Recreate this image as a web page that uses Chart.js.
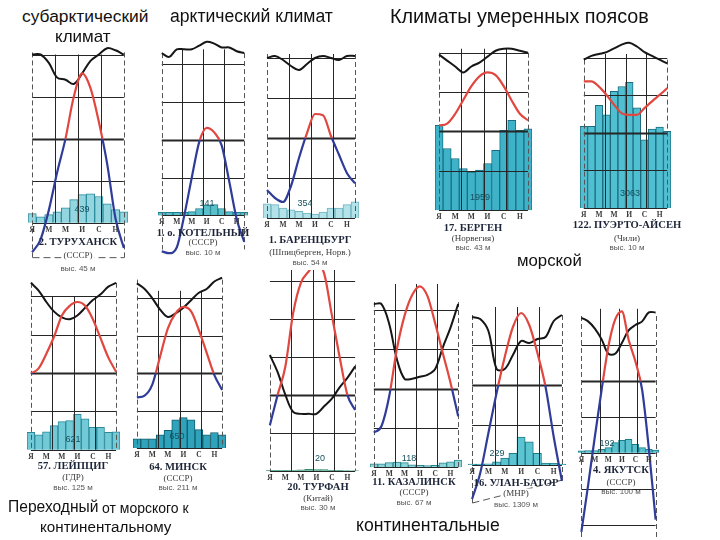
<!DOCTYPE html>
<html>
<head>
<meta charset="utf-8">
<script src="https://cdn.jsdelivr.net/npm/chart.js@4.4.0/dist/chart.umd.min.js"></script>
<style>
  html, body { margin: 0; padding: 0; background: #fff; }
  #page { position: relative; width: 720px; height: 540px; overflow: hidden; background: #fff; }
  #page canvas { position: absolute; z-index: 1; }
  .cap { position: absolute; white-space: nowrap; line-height: 1; color: #111; font-family: "Liberation Sans", Arial, sans-serif; z-index: 3; }
  .lbl { position: absolute; white-space: nowrap; line-height: 1; transform: translate(-50%, -50%); z-index: 3; }
  .st { font-family: "Liberation Serif", serif; font-weight: bold; font-size: 10.6px; color: #1c2438; }
  .sub { font-family: "Liberation Serif", serif; font-size: 9px; color: #3a3a3a; }
  .alt { font-family: "Liberation Sans", sans-serif; font-size: 8px; color: #555; }
  .tot { font-family: "Liberation Sans", sans-serif; font-size: 9px; color: #16505c; }
</style>
</head>
<body>
<div id="page"></div>
<script>
// месяцы (подписи оси)
const months = ['Я', 'Ф', 'М', 'А', 'М', 'И', 'И', 'А', 'С', 'О', 'Н', 'Д'];

// температура (°C), осадки (мм), влажность (%)
const turTemp = [-27, -24, -17, -8, 0, 10, 15.5, 12, 4, -6, -19, -26];
const turPrec = [20, 13, 18, 24, 33, 51, 62, 64, 58, 42, 29, 24];
const turHum = [80, 80, 76, 69, 68, 66, 71, 77, 80, 83, 82, 80];

const kotTemp = [-29.5, -30, -28.5, -20, -10, -0.5, 3.2, 2, -1.5, -11, -21, -27];
const kotPrec = [7, 7, 7, 7, 9, 16, 24, 25, 16, 9, 7, 7];
const kotHum = [86, 84, 88, 88, 88, 90, 92, 91, 89, 89, 87, 86];

const barTemp = [-13, -15, -16, -12, -5, 1.2, 6, 5.7, 0.5, -4.2, -8.8, -11.3];
const barPrec = [43, 41, 30, 25, 20, 15, 12, 18, 30, 30, 41, 49];
const barHum = [80, 81, 79, 76, 74, 77, 80, 81, 80, 79, 81, 81];

const berTemp = [1.5, 2, 4.5, 8, 11.5, 14, 15, 14.3, 11.5, 7.8, 4.5, 2.8];
const berPrec = [220, 160, 134, 108, 99, 104, 121, 155, 207, 233, 207, 211];
const berHum = [79, 76, 73, 70, 73, 75, 78, 81, 82, 82, 81, 80];

const paTemp = [13.7, 13.7, 12.3, 10.1, 7.5, 5.2, 4.8, 4.8, 6.6, 8.4, 10.1, 11.9];
const paPrec = [222, 222, 279, 253, 317, 330, 341, 272, 185, 214, 220, 208];
const paHum = [79, 81, 82, 83, 85, 87, 88, 86, 83, 81, 79, 77];

const leiTemp = [-0.2, 1.2, 5, 9.5, 15, 17.5, 18.5, 17.5, 14, 9, 4, 0.3];
const leiPrec = [39, 33, 40, 54, 63, 65, 79, 69, 50, 50, 39, 40];
const leiHum = [87, 83, 77, 72, 69, 68, 70, 74, 78, 81, 85, 87];

const minTemp = [-6.5, -6, -3, 4.5, 12, 16, 17.7, 16.5, 11.5, 5.5, -0.5, -4.5];
const minPrec = [29, 29, 29, 42, 56, 89, 96, 89, 58, 42, 49, 42];
const minHum = [88, 85, 80, 74, 70, 72, 75, 79, 83, 85, 89, 91];

const turfTemp = [-8, 0, 7.5, 21.5, 29.5, 32.5, 34.5, 32, 21, 10, 0, -4];
const turfPrec = [1, 1, 1, 1.5, 2.5, 4, 3, 3, 1, 1, 0.5, 0.5];
const turfHum = [61, 52, 40, 31, 30, 30, 30, 34, 38, 44, 49, 55];

const kazTemp = [-11.2, -9.5, -2, 10, 18.5, 23.8, 26, 23.5, 16.6, 9, 1.5, -7];
const kazPrec = [9, 9, 12, 13, 12, 6, 5, 4, 5, 11, 14, 18];
const kazHum = [83, 83, 73, 55, 45, 45, 46, 47, 50, 61, 71, 83];

const ubTemp = [-28.5, -22, -12, -2, 7, 14.5, 18, 15, 8, -0.5, -13, -24];
const ubPrec = [2, 2, 3, 8, 17, 29, 70, 58, 29, 5, 4, 2];
const ubHum = [74, 73, 67, 48, 48, 55, 62, 61, 63, 64, 72, 75];

const yakTemp = [-42, -29, -15.5, -2.5, 9.5, 17, 19.3, 11.4, 5.4, -2.5, -19, -38.6];
const yakPrec = [5, 6, 6, 9, 14, 28, 34, 37, 23, 14, 9, 7];
const yakHum = [75, 73, 69, 63, 55, 55, 61, 68, 71, 73, 78, 78];

const annualPrec = [439, 141, 354, 1959, 3063, 621, 650, 20, 118, 229, 192];
const stationNames = ['2. ТУРУХАНСК', '1. о. КОТЕЛЬНЫЙ', '1. БАРЕНЦБУРГ', '17. БЕРГЕН', '122. ПУЭРТО-АЙСЕН',
  '57. ЛЕЙПЦИГ', '64. МИНСК', '20. ТУРФАН', '11. КАЗАЛИНСК', '16. УЛАН-БАТОР', '4. ЯКУТСК'];
const countries = ['(СССР)', '(СССР)', '(Шпицберген, Норв.)', '(Норвегия)', '(Чили)',
  '(ГДР)', '(СССР)', '(Китай)', '(СССР)', '(МНР)', '(СССР)'];
const altitudes = ['выс. 45 м', 'выс. 10 м', 'выс. 54 м', 'выс. 43 м', 'выс. 10 м',
  'выс. 125 м', 'выс. 211 м', 'выс. 30 м', 'выс. 67 м', 'выс. 1309 м', 'выс. 100 м'];

const RED = '#e0473f';
const BLUE = '#2f3c98';

// раскладка панелей: x0/x11 - пиксели января и декабря, zero - пиксель 0°C, row - пикселей на 10°C
const panels = [
  { temp: turTemp, prec: turPrec, hum: turHum, x0: 31.7, x11: 123.3, zero: 138, row: 42, tmin: -31, tmax: 22.5,
    hTop: 20, hBot: -20, vTop: 20, dTop: 20.5, dBot: [-28.3, -28.3], dashBottom: true, mmRow: 93, fill: '#93d6df', line: '#2e8c9e',
    tx: 78, ty: [242, 255, 269], tot: [82, 209] },
  { temp: kotTemp, prec: kotPrec, hum: kotHum, x0: 161.7, x11: 244, zero: 140, row: 37.75, tmin: -31, tmax: 27,
    hTop: 20, hBot: -20, vTop: 24, dTop: 23, dBot: [-29, -29], mmRow: 87, fill: '#58bfcb', line: '#1d7f8e',
    tx: 203, ty: [233, 242, 253], tot: [207, 203] },
  { temp: barTemp, prec: barPrec, hum: barHum, x0: 266.7, x11: 355, zero: 138, row: 40, tmin: -24, tmax: 22,
    hTop: 20, hBot: -20, vTop: 21, dTop: 21, dBot: [-20, -20], mmRow: 122, fill: '#b3e2e8', line: '#6fb3bf',
    tx: 310, ty: [240, 252, 263], tot: [305, 203] },
  { temp: berTemp, prec: berPrec, hum: berHum, x0: 439, x11: 528.3, zero: 131, row: 39.3, tmin: -24, tmax: 21.7,
    hTop: 20, hBot: -20, vTop: 21, dTop: 20, dBot: [-20, -20], mmRow: 102, fill: '#3db2c8', line: '#1b6f82',
    tx: 473, ty: [228, 238, 248], tot: [480, 197] },
  { temp: paTemp, prec: paPrec, hum: paHum, x0: 584, x11: 667.3, zero: 133, row: 37.5, tmin: -24, tmax: 25,
    hTop: 20, hBot: -20, vTop: 21, dTop: 19.5, dBot: [-20, -20], mmRow: 102, fill: '#4fbfd1', line: '#1d6c7c',
    tx: 627, ty: [225, 238, 248], tot: [630, 193] },
  { temp: leiTemp, prec: leiPrec, hum: leiHum, x0: 30.7, x11: 116, zero: 373, row: 38.3, tmin: -24, tmax: 24.5,
    hTop: 20, hBot: -20, vTop: 20, dTop: 23.5, dBot: [-20, -20], mmRow: 86, fill: '#72cad7', line: '#2a899b',
    tx: 73, ty: [466, 477, 488], tot: [73, 439] },
  { temp: minTemp, prec: minPrec, hum: minHum, x0: 136.7, x11: 221.7, zero: 373, row: 37.5, tmin: -24, tmax: 26.5,
    hTop: 20, hBot: -20, vTop: 22, dTop: 25, dBot: [-20, -20], mmRow: 118, fill: '#2ea3bb', line: '#135d6c',
    tx: 178, ty: [467, 478, 488], tot: [177, 436] },
  { temp: turfTemp, prec: turfPrec, hum: turfHum, x0: 270, x11: 355, zero: 395, row: 38, tmin: -24, tmax: 32.9,
    hTop: 30, hBot: -20, vTop: 32.9, dTop: 8, dBot: [-20, -20], mmRow: 100, fill: '#5cc0a0', line: '#2a7e62',
    tx: 318, ty: [487, 498, 508], tot: [320, 458] },
  { temp: kazTemp, prec: kazPrec, hum: kazHum, x0: 374.3, x11: 458.3, zero: 389, row: 39.3, tmin: -24, tmax: 26.6,
    hTop: 20, hBot: -20, vTop: 26.6, dTop: 22, dBot: [-20, -20], mmRow: 100, fill: '#8dd3d8', line: '#2a8890',
    tx: 414, ty: [482, 492, 503], tot: [409, 458] },
  { temp: ubTemp, prec: ubPrec, hum: ubHum, x0: 472.3, x11: 561.7, zero: 385, row: 40, tmin: -30, tmax: 20,
    hTop: 10, hBot: -20, vTop: 19.5, dTop: 17.5, dBot: [-29.5, -23.75], dashBottom: true, mmRow: 100, fill: '#5bc4d0', line: '#1e7c89',
    tx: 516, ty: [483, 493, 505], tot: [497, 453] },
  { temp: yakTemp, prec: yakPrec, hum: yakHum, x0: 581.7, x11: 656, zero: 381, row: 36, tmin: -44, tmax: 20.5,
    hTop: 10, hBot: -40, vTop: 20, dTop: 18, dBot: [-44, -44], mmRow: 100, fill: '#5ac1ce', line: '#1e7c89',
    tx: 621, ty: [470, 482, 492], tot: [607, 443] }
];

// сетка поверх столбиков и подписи месяцев
const gridPlugin = {
  id: 'climGrid',
  afterDatasetDraw(chart, args, opts) {
    if (args.index !== 0) return;
    const p = opts.panel;
    const xs = chart.scales.x, ys = chart.scales.y, ctx = chart.ctx;
    const xl = xs.getPixelForValue(0), xr = xs.getPixelForValue(11);
    ctx.save();
    ctx.strokeStyle = '#262626';
    for (let t = p.hTop; t >= p.hBot; t -= 10) {
      const py = Math.round(ys.getPixelForValue(t)) + 0.5;
      ctx.lineWidth = t === 0 ? 2 : 1;
      ctx.beginPath(); ctx.moveTo(xl, py); ctx.lineTo(xr, py); ctx.stroke();
    }
    ctx.lineWidth = 1;
    for (const v of [2.75, 5.5, 8.25]) {
      const px = Math.round(xs.getPixelForValue(v)) + 0.5;
      ctx.beginPath(); ctx.moveTo(px, ys.getPixelForValue(p.vTop)); ctx.lineTo(px, ys.getPixelForValue(-20)); ctx.stroke();
    }
    ctx.strokeStyle = '#555';
    ctx.setLineDash([5, 3]);
    const el = Math.round(xl) + 0.5, er = Math.round(xr) + 0.5;
    ctx.beginPath(); ctx.moveTo(el, ys.getPixelForValue(p.dTop)); ctx.lineTo(el, ys.getPixelForValue(p.dBot[0])); ctx.stroke();
    ctx.beginPath(); ctx.moveTo(er, ys.getPixelForValue(p.dTop)); ctx.lineTo(er, ys.getPixelForValue(p.dBot[1])); ctx.stroke();
    if (p.dashBottom) {
      ctx.setLineDash([7, 4]);
      ctx.beginPath(); ctx.moveTo(el, ys.getPixelForValue(p.dBot[0])); ctx.lineTo(er, ys.getPixelForValue(p.dBot[1])); ctx.stroke();
    }
    ctx.restore();
  },
  afterDatasetsDraw(chart, args, opts) {
    const xs = chart.scales.x, ys = chart.scales.y, ctx = chart.ctx;
    ctx.save();
    ctx.font = 'bold 7.5px "Liberation Serif", serif';
    ctx.fillStyle = '#3a3a3a';
    ctx.textAlign = 'center';
    ctx.textBaseline = 'middle';
    const labels = chart.data.labels;
    labels.forEach((m, i) => {
      if (i % 2 === 0) ctx.fillText(m, xs.getPixelForValue(i), ys.getPixelForValue(-20) + 7);
    });
    ctx.restore();
  }
};

function tempColor(c) {
  const chart = c.chart;
  const area = chart.chartArea;
  if (!area || !chart.scales.y) return RED;
  const y0 = chart.scales.y.getPixelForValue(0);
  let s = (y0 - area.top) / (area.bottom - area.top);
  s = Math.min(1, Math.max(0, s));
  const g = chart.ctx.createLinearGradient(0, area.top, 0, area.bottom);
  g.addColorStop(0, RED); g.addColorStop(s, RED);
  g.addColorStop(s, BLUE); g.addColorStop(1, BLUE);
  return g;
}

const page = document.getElementById('page');

function addText(cls, text, x, y, extra) {
  const d = document.createElement('div');
  d.className = 'lbl ' + cls;
  d.textContent = text;
  d.style.left = x + 'px';
  d.style.top = y + 'px';
  if (extra) Object.assign(d.style, extra);
  page.appendChild(d);
}

function addCap(text, x, y, size) {
  const d = document.createElement('div');
  d.className = 'cap';
  d.textContent = text;
  d.style.left = x + 'px';
  d.style.top = y + 'px';
  d.style.fontSize = size + 'px';
  page.appendChild(d);
}

panels.forEach((p, k) => {
  const step = (p.x11 - p.x0) / 11;
  const left = Math.round(p.x0 - step / 2);
  const width = Math.round(step * 12);
  const top = Math.round(p.zero - p.tmax * p.row / 10);
  const height = Math.round((p.tmax - p.tmin) * p.row / 10);
  const cv = document.createElement('canvas');
  cv.width = width; cv.height = height;
  cv.style.left = left + 'px'; cv.style.top = top + 'px';
  cv.style.width = width + 'px'; cv.style.height = height + 'px';
  page.appendChild(cv);

  new Chart(cv, {
    type: 'bar',
    data: {
      labels: months,
      datasets: [
        { type: 'bar', data: p.prec, yAxisID: 'yp', backgroundColor: p.fill, borderColor: p.line,
          borderWidth: 1, barPercentage: 1, categoryPercentage: 1, order: 3 },
        { type: 'line', data: p.hum, yAxisID: 'yh', borderColor: '#161616', borderWidth: 2,
          pointRadius: 0, tension: 0.35, order: 2 },
        { type: 'line', data: p.temp, yAxisID: 'y', borderColor: tempColor, borderWidth: 2.2,
          pointRadius: 0, cubicInterpolationMode: 'monotone', order: 1 }
      ]
    },
    options: {
      responsive: false,
      animation: false,
      events: [],
      layout: { padding: 0 },
      plugins: { legend: { display: false }, tooltip: { enabled: false }, climGrid: { panel: p } },
      scales: {
        x: { display: false, offset: true },
        y: { type: 'linear', display: false, min: p.tmin, max: p.tmax },
        yp: { type: 'linear', display: false, min: (p.tmin + 20) * p.mmRow / 10, max: (p.tmax + 20) * p.mmRow / 10 },
        yh: { type: 'linear', display: false, min: 2 * (p.tmin + 20), max: 2 * (p.tmax + 20) }
      }
    },
    plugins: [gridPlugin]
  });

  addText('tot', String(annualPrec[k]), p.tot[0], p.tot[1]);
  addText('st', stationNames[k], p.tx, p.ty[0]);
  addText('sub', countries[k], p.tx, p.ty[1], p.dashBottom ? { background: '#fff', padding: '0 2px' } : null);
  addText('alt', altitudes[k], p.tx, p.ty[2]);
});

// заголовки групп
addCap('субарктический', 22, 8, 17.4);
addCap('климат', 55, 28, 17);
addCap('арктический климат', 170, 8, 17.6);
addCap('Климаты умеренных поясов', 390, 7, 19.8);
addCap('морской', 517, 253, 16.8);
addCap('Переходный', 8, 499, 15.6);
addCap('от морского к', 102, 501, 14);
addCap('континентальному', 40, 519, 15.2);
addCap('континентальные', 356, 517, 17.6);
</script>
</body>
</html>
